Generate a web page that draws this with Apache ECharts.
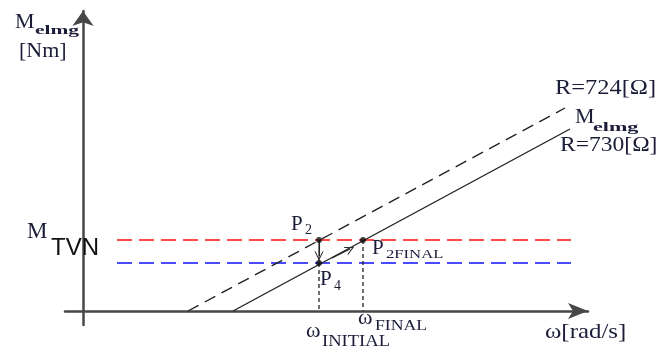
<!DOCTYPE html>
<html>
<head>
<meta charset="utf-8">
<script src="https://cdn.jsdelivr.net/npm/echarts@6/dist/echarts.min.js"></script>
<style>
  html, body { margin: 0; padding: 0; background: #fff; }
  #chart { width: 665px; height: 351px; }
</style>
</head>
<body>
<div id="chart"></div>
<script>
// Torque–speed sketch: ω on x, M_elmg on y (schematic units, origin at the axis crossing)
const omegaRange = [-18, 505];
const torqueRange = [-14, 300];

// Motor characteristics for the two resistor values
const curveR724 = [[105, 0], [482, 203]];
const curveR730 = [[150, 0], [487, 182]];

// Horizontal torque levels and their span
const levelTVN = 71;
const levelLower = 48;
const levelSpan = [34, 488];

// Operating speeds and points
const omegaInitial = 236;
const omegaFinal = 280;
const pointP2 = [omegaInitial, 71];
const pointP4 = [omegaInitial, 48];
const pointP2Final = [omegaFinal, 71];

// Arrows showing the transition
const arrowDrop = [[omegaInitial, 71], [omegaInitial, 55]];
const arrowClimb = [[249, 53], [267, 62]];

const serif = '"Liberation Serif", "Times New Roman", serif';
const ink = '#1a1c38';

function txt(x, y, text, size, extra) {
  extra = extra || {};
  return {
    type: 'text', x: x, y: y, z: 100,
    scaleX: extra.sx || 1,
    style: {
      text: text,
      fontSize: size,
      fontFamily: extra.family || serif,
      fontWeight: extra.bold ? 'bold' : 'normal',
      fill: extra.color || ink,
      align: 'left',
      verticalAlign: 'middle'
    }
  };
}

const chevron = 'path://M5,0 L10,10 L8.8,10 L5,2.2 L1.2,10 L0,10 Z';

const chart = echarts.init(document.getElementById('chart'), null, { renderer: 'canvas' });

chart.setOption({
  animation: false,
  backgroundColor: '#ffffff',
  grid: { left: 65, right: 77, top: 11, bottom: 26, containLabel: false },
  xAxis: {
    type: 'value', min: omegaRange[0], max: omegaRange[1],
    axisLine: { show: true, onZero: true, symbol: ['none', 'arrow'], symbolSize: [12, 20],
      lineStyle: { color: '#474747', width: 2.5 } },
    axisTick: { show: false }, axisLabel: { show: false }, splitLine: { show: false }
  },
  yAxis: {
    type: 'value', min: torqueRange[0], max: torqueRange[1],
    axisLine: { show: true, onZero: true, symbol: ['none', 'arrow'], symbolSize: [16, 15],
      lineStyle: { color: '#474747', width: 2.5 } },
    axisTick: { show: false }, axisLabel: { show: false }, splitLine: { show: false }
  },
  series: [
    { type: 'line', data: [[levelSpan[0], levelTVN], [levelSpan[1], levelTVN]], symbol: 'none',
      lineStyle: { color: '#ff4a4a', width: 1.8, type: [15, 7] }, z: 2 },
    { type: 'line', data: [[levelSpan[0], levelLower], [levelSpan[1], levelLower]], symbol: 'none',
      lineStyle: { color: '#4a4aff', width: 1.8, type: [15, 7] }, z: 2 },
    { type: 'line', data: curveR724, symbol: 'none',
      lineStyle: { color: '#222', width: 1.4, type: [12, 7] }, z: 3 },
    { type: 'line', data: curveR730, symbol: 'none',
      lineStyle: { color: '#222', width: 1.4 }, z: 3 },
    { type: 'line', data: [pointP4, [omegaInitial, 0]], symbol: 'none',
      lineStyle: { color: '#222', width: 1.3, type: [4, 3] }, z: 3 },
    { type: 'line', data: [pointP2Final, [omegaFinal, 0]], symbol: 'none',
      lineStyle: { color: '#222', width: 1.3, type: [4, 3] }, z: 3 },
    { type: 'line', data: [pointP2, pointP4], symbol: 'none',
      lineStyle: { color: '#222', width: 1.1 }, z: 3 },
    { type: 'lines', coordinateSystem: 'cartesian2d', z: 4,
      symbol: ['none', chevron], symbolSize: 9,
      lineStyle: { color: '#222', width: 1.1, opacity: 1 },
      data: [{ coords: arrowDrop }, { coords: arrowClimb }] },
    { type: 'scatter', data: [pointP2, pointP4, pointP2Final], symbolSize: 6,
      itemStyle: { color: '#111' }, z: 5, clip: false }
  ],
  graphic: [
    txt(15, 22, 'M', 22),
    txt(35, 31, 'elmg', 13, { bold: true, sx: 1.65 }),
    txt(19, 51, '[Nm]', 22),
    txt(27, 232, 'M', 23),
    txt(51, 248, 'TVN', 24, { family: '"Liberation Sans", Arial, sans-serif', color: '#111' }),
    txt(291, 224, 'P', 21),
    txt(305, 230, '2', 14),
    txt(320, 279, 'P', 21),
    txt(334, 286, '4', 14),
    txt(372, 248, 'P', 21),
    txt(386, 255, '2FINAL', 13, { sx: 1.28 }),
    txt(358, 318, 'ω', 22),
    txt(375, 326, 'FINAL', 15, { sx: 1.18 }),
    txt(306, 331, 'ω', 22),
    txt(322, 342, 'INITIAL', 16, { sx: 1.16 }),
    txt(555, 88, 'R=724[Ω]', 22, { sx: 1.11 }),
    txt(575, 117, 'M', 22),
    txt(593, 128, 'elmg', 13, { bold: true, sx: 1.7 }),
    txt(560, 145, 'R=730[Ω]', 22, { sx: 1.07 }),
    txt(545, 332, 'ω[rad/s]', 22, { sx: 1.13 })
  ]
});
</script>
</body>
</html>
